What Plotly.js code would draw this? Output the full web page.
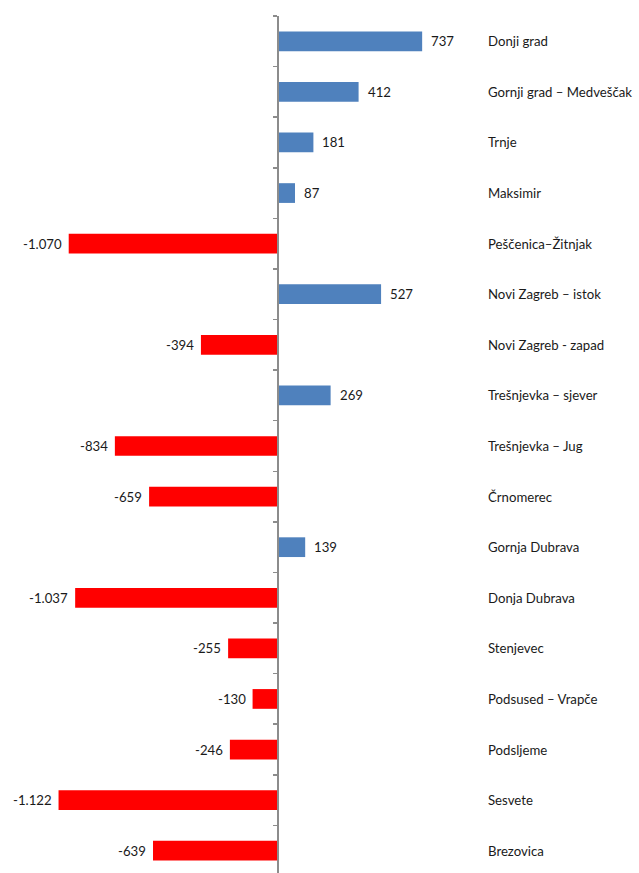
<!DOCTYPE html>
<html>
<head>
<meta charset="utf-8">
<script src="https://cdn.plot.ly/plotly-3.0.1.min.js"></script>
<style>
html,body{margin:0;padding:0;overflow:hidden;background:#fff;}
#chart{width:639px;height:880px;}
</style>
</head>
<body>
<div id="chart"></div>
<script>
const districts = ["Donji grad","Gornji grad – Medveščak","Trnje","Maksimir","Peščenica–Žitnjak","Novi Zagreb – istok","Novi Zagreb - zapad","Trešnjevka – sjever","Trešnjevka – Jug","Črnomerec","Gornja Dubrava","Donja Dubrava","Stenjevec","Podsused – Vrapče","Podsljeme","Sesvete","Brezovica"];
const changes = [737,412,181,87,-1070,527,-394,269,-834,-659,139,-1037,-255,-130,-246,-1122,-639];

const W = 639, ZERO_PX = 278, PX_PER_UNIT = 0.1956;
const xmin = -ZERO_PX / PX_PER_UNIT;
const xmax = (W - ZERO_PX) / PX_PER_UNIT;

function fmt(v){
  const s = Math.abs(v).toString().replace(/\B(?=(\d{3})+(?!\d))/g, ".");
  return (v < 0 ? "-" : "") + s;
}

const font = {family: "Lato, 'Open Sans', sans-serif", size: 13.2, color: "#1a1a1a"};

const trace = {
  type: "bar",
  orientation: "h",
  x: changes,
  y: districts,
  marker: {
    color: changes.map(v => v >= 0 ? "#4F81BD" : "#FF0000"),
    line: {width: 0}
  },
  width: 0.39,
  hoverinfo: "x+y"
};

const annotations = [];
districts.forEach((d, i) => {
  const v = changes[i];
  annotations.push({
    x: v, y: d, xref: "x", yref: "y",
    text: fmt(v), showarrow: false,
    xanchor: v >= 0 ? "left" : "right",
    xshift: v >= 0 ? 7 : -5,
    yshift: 0,
    font: font
  });
  annotations.push({
    x: 486 / W, y: d, xref: "paper", yref: "y",
    text: d, showarrow: false, xanchor: "left",
    font: font
  });
});

const layout = {
  width: 639, height: 880,
  margin: {l: 0, r: 0, t: 16, b: 4},
  paper_bgcolor: "#fff", plot_bgcolor: "#fff",
  showlegend: false,
  xaxis: {
    range: [xmin, xmax], domain: [0, 1],
    showgrid: false, zeroline: false, showline: false,
    showticklabels: false, ticks: "", fixedrange: true
  },
  yaxis: {
    type: "category",
    autorange: "reversed",
    anchor: "free",
    position: ZERO_PX / W,
    showline: true, linecolor: "#8c8c8c", linewidth: 2,
    ticks: "outside", ticklen: 4, tickwidth: 1.5, tickcolor: "#8c8c8c",
    tickson: "boundaries",
    showticklabels: false, showgrid: false, zeroline: false
  },
  annotations: annotations
};

Plotly.newPlot("chart", [trace], layout, {displayModeBar: false, staticPlot: true});
</script>
</body>
</html>
